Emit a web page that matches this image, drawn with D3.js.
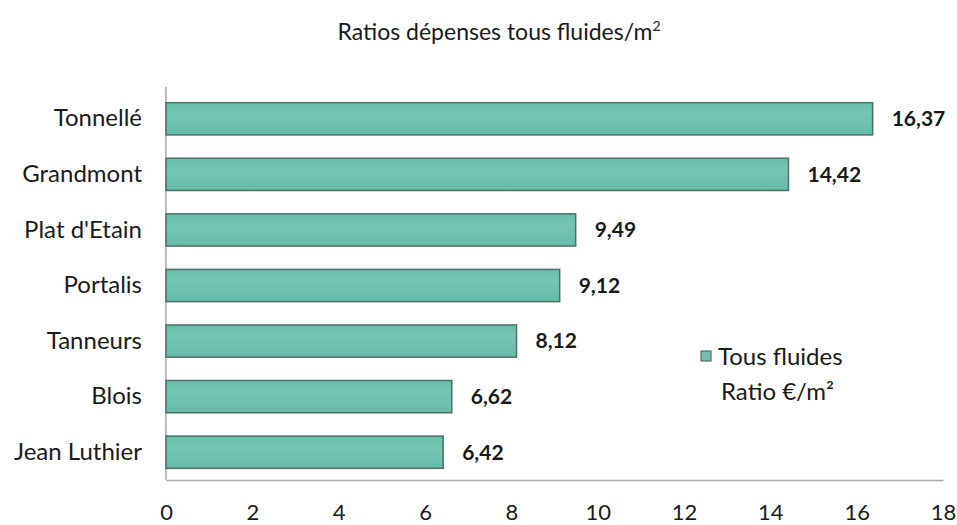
<!DOCTYPE html>
<html>
<head>
<meta charset="utf-8">
<script src="https://cdn.jsdelivr.net/npm/d3@7/dist/d3.min.js"></script>
<style>
  html, body { margin: 0; padding: 0; background: #ffffff; }
  svg { display: block; }
  text { font-family: Lato, "Noto Sans", sans-serif; fill: #1a1a1a; }
</style>
</head>
<body>
<svg id="chart" width="957" height="525"></svg>
<script>
// Sites and their all-fluids spending ratio (€/m²)
const categories = ["Tonnellé", "Grandmont", "Plat d'Etain", "Portalis", "Tanneurs", "Blois", "Jean Luthier"];
const ratios = [16.37, 14.42, 9.49, 9.12, 8.12, 6.62, 6.42];
const xTicks = [0, 2, 4, 6, 8, 10, 12, 14, 16, 18];
const legendLines = ["Tous fluides", "Ratio €/m²"];

const svg = d3.select("#chart");
const margin = { top: 91, right: 14, bottom: 45, left: 166 };
const W = 957, H = 525;
const plotW = W - margin.left - margin.right;
const plotH = H - margin.top - margin.bottom;

const x = d3.scaleLinear().domain([0, 18]).range([margin.left, margin.left + plotW]);
const y = d3.scaleBand().domain(categories).range([margin.top, margin.top + plotH]).paddingInner(0.42).paddingOuter(0.21);

// Soft horizontal banding inside the bars
const defs = svg.append("defs");
const grad = defs.append("linearGradient").attr("id", "barFill").attr("x1", 0).attr("y1", 0).attr("x2", 0).attr("y2", 1);
grad.append("stop").attr("offset", "0%").attr("stop-color", "#67bfa9");
grad.append("stop").attr("offset", "35%").attr("stop-color", "#74c6b2");
grad.append("stop").attr("offset", "65%").attr("stop-color", "#6fc1b1");
grad.append("stop").attr("offset", "100%").attr("stop-color", "#64bba6");

// Title
const title = svg.append("text")
  .attr("x", 499).attr("y", 40)
  .attr("text-anchor", "middle")
  .style("font-size", "23px");
title.append("tspan").text("Ratios dépenses tous fluides/m");
title.append("tspan").attr("dy", -9).style("font-size", "14px").text("2");

// Axis lines
svg.append("line")
  .attr("x1", margin.left).attr("x2", margin.left)
  .attr("y1", 87).attr("y2", margin.top + plotH)
  .attr("stroke", "#a9a9a9").attr("stroke-width", 1.5);

const xAxis = d3.axisBottom(x).tickValues(xTicks).tickSize(0).tickPadding(24).tickFormat(d3.format("d"));
const gx = svg.append("g").attr("transform", `translate(0,${margin.top + plotH})`).call(xAxis);
gx.select(".domain").attr("stroke", "#a9a9a9").attr("stroke-width", 1.5);
gx.selectAll("text").style("font-size", "22px").attr("fill", "#1a1a1a");

// Category labels
const yAxis = d3.axisLeft(y).tickSize(0).tickPadding(24);
const gy = svg.append("g").attr("transform", `translate(${margin.left},0)`).call(yAxis);
gy.select(".domain").remove();
gy.selectAll("text").style("font-size", "24px").attr("fill", "#1a1a1a");

// Bars
svg.append("g").selectAll("rect")
  .data(categories)
  .join("rect")
  .attr("x", x(0))
  .attr("y", d => y(d))
  .attr("width", (d, i) => x(ratios[i]) - x(0))
  .attr("height", y.bandwidth())
  .attr("fill", "url(#barFill)")
  .attr("stroke", "#4f6f69")
  .attr("stroke-width", 1.5);

// Value labels
const fmt = v => v.toFixed(2).replace(".", ",");
svg.append("g").selectAll("text")
  .data(categories)
  .join("text")
  .attr("x", (d, i) => x(ratios[i]) + 19)
  .attr("y", d => y(d) + y.bandwidth() / 2)
  .attr("dy", "0.35em")
  .style("font-size", "21px")
  .style("font-weight", "bold")
  .text((d, i) => fmt(ratios[i]));

// Legend
const lg = svg.append("g");
lg.append("rect")
  .attr("x", 701).attr("y", 351)
  .attr("width", 10).attr("height", 10)
  .attr("fill", "#76bfae").attr("stroke", "#4f6f69").attr("stroke-width", 1.2);
lg.selectAll("text.leg")
  .data(legendLines)
  .join("text")
  .attr("class", "leg")
  .attr("x", (d, i) => i === 0 ? 718 : 721)
  .attr("y", (d, i) => 365 + i * 35)
  .style("font-size", "24px")
  .text(d => d);
</script>
</body>
</html>
